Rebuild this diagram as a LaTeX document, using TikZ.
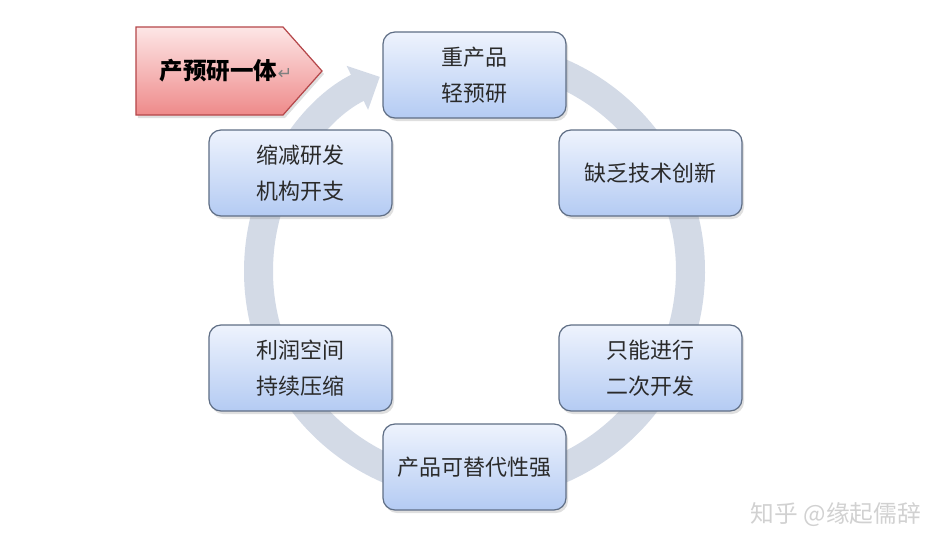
\documentclass[tikz,border=0pt]{standalone}
\usepackage{fontspec}
\newfontfamily\cjk{Noto Sans CJK SC}
\newfontfamily\symfont{DejaVu Sans}
\usepackage{xcolor}
\usepackage{tikz}
\usetikzlibrary{arrows.meta,positioning,shadows}

\definecolor{ringgray}{HTML}{D3DAE6}
\definecolor{boxedge}{HTML}{5F6E85}
\definecolor{boxtop}{HTML}{EEF3FD}
\definecolor{boxbot}{HTML}{B4CBF3}
\definecolor{pinktop}{HTML}{FDE6E6}
\definecolor{pinkbot}{HTML}{EE8A8A}
\definecolor{pinkedge}{HTML}{B5474A}
\definecolor{textdark}{HTML}{2A2A2A}

\begin{document}
\begin{tikzpicture}[
  box/.style={draw=boxedge,line width=0.7pt,rounded corners=0.24cm,align=center,
    minimum width=3.66cm,minimum height=1.72cm,top color=boxtop,bottom color=boxbot,
    text=textdark,font=\cjk\fontsize{12.5}{20.5}\selectfont,
    drop shadow={opacity=0.25,shadow xshift=0.04cm,shadow yshift=-0.06cm}},
  tagshape/.style={draw=pinkedge,line width=0.7pt,top color=pinktop,bottom color=pinkbot,
    drop shadow={opacity=0.25,shadow xshift=0.04cm,shadow yshift=-0.06cm}},
  tagtext/.style={font=\cjk\bfseries\fontsize{13.4}{16}\selectfont,text=black},
  ring/.style={draw=ringgray,line width=0.58cm,-{Triangle[length=0.5cm,width=0.95cm]}}
]
  \useasboundingbox (-9.49,-5.66) rectangle (9.45,5.42);
  \coordinate (ctr) at (0,0);
  % cycle ring
  \draw[ring] (ctr) ++(85:4.32) arc[start angle=85,end angle=-244,radius=4.32];
  % stages
  \node[box] (heavy) at (0,3.92) {重产品\\轻预研};
  \node[box] (lack) at (3.52,1.96) {缺乏技术创新};
  \node[box] (second) at (3.52,-1.94) {只能进行\\二次开发};
  \node[box] (replace) at (0,-3.92) {产品可替代性强};
  \node[box] (profit) at (-3.48,-1.94) {利润空间\\持续压缩};
  \node[box] (cut) at (-3.48,1.96) {缩减研发\\机构开支};
  % tag arrow
  \path[tagshape] (-6.77,4.88) -- (-3.83,4.88) -- (-3.05,4.0) -- (-3.83,3.12) -- (-6.77,3.12) -- cycle;
  \node[tagtext] (tag) at (-4.97,4.0) {产预研一体{\symfont\mdseries\fontsize{10}{12}\selectfont\color{gray}↵}};
  % watermark
  \node[font=\cjk\fontsize{13.5}{16}\selectfont,text=black!18] (mark) at (7.23,-4.88) {知乎 @缘起儒辞};
\end{tikzpicture}
\end{document}
